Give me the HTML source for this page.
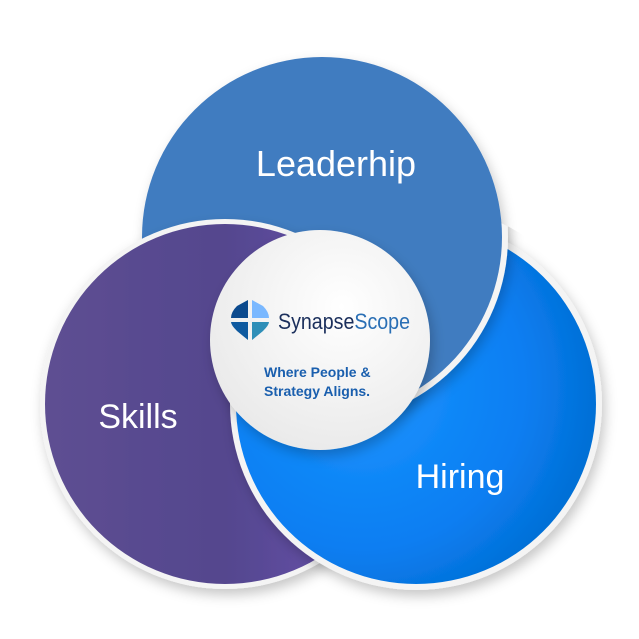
<!DOCTYPE html>
<html><head><meta charset="utf-8"><style>
html,body{margin:0;padding:0;background:#fff;}
svg{display:block;}
text{font-family:"Liberation Sans",sans-serif;}
</style></head><body>
<svg width="639" height="639" viewBox="0 0 639 639">
<defs>
<filter id="sh" x="-20%" y="-20%" width="140%" height="140%"><feDropShadow dx="3" dy="6" stdDeviation="6" flood-color="#000" flood-opacity="0.22"/></filter>
<linearGradient id="gs" x1="0" y1="0" x2="1" y2="0"><stop offset="0" stop-color="#5e4f92"/><stop offset="0.5" stop-color="#54468e"/><stop offset="0.85" stop-color="#6652aa"/></linearGradient>
<radialGradient id="gh" cx="0.35" cy="0.45" r="0.75"><stop offset="0" stop-color="#1a94ff"/><stop offset="0.6" stop-color="#0a7ef2"/><stop offset="1" stop-color="#0068c8"/></radialGradient>
<radialGradient id="gc" cx="0.6" cy="0.35" r="0.8"><stop offset="0" stop-color="#ffffff"/><stop offset="1" stop-color="#e6e6e6"/></radialGradient>
<clipPath id="rightHalf"><rect x="335" y="0" width="304" height="639"/></clipPath>
<clipPath id="hiringArea"><circle cx="416" cy="404" r="200"/></clipPath>
</defs>
<g filter="url(#sh)">
<circle cx="322" cy="237" r="180" fill="#417cc0"/>
</g>
<g filter="url(#sh)">
<circle cx="225" cy="404" r="185" fill="#f4f4f4"/>
<circle cx="225" cy="404" r="180" fill="url(#gs)"/>
</g>
<g filter="url(#sh)">
<circle cx="416" cy="404" r="186" fill="#f4f4f4"/>
<circle cx="416" cy="404" r="180" fill="url(#gh)"/>
</g>
<g clip-path="url(#rightHalf)">
<g clip-path="url(#hiringArea)">
<g filter="url(#sh)">
<circle cx="322" cy="237" r="186" fill="#f4f4f4"/>
<circle cx="322" cy="237" r="180" fill="#417cc0"/>
</g>
</g>
</g>
<text x="336" y="176" font-size="36" fill="#fff" text-anchor="middle">Leaderhip</text>
<text x="138" y="428" font-size="34" fill="#fff" text-anchor="middle">Skills</text>
<text x="460" y="488" font-size="34" fill="#fff" text-anchor="middle">Hiring</text>
<g filter="url(#sh)">
<circle cx="320" cy="340" r="110" fill="url(#gc)"/>
</g>
<g>
<path d="M248 300 L248 318 L231 318 Q231 312 237 306 Z" fill="#0b4a8e"/>
<path d="M252 300 L252 318 L269 318 Q269 312 263 306 Z" fill="#7ab8ff"/>
<path d="M248 322 L248 340 Q243 336 237 331 Q231 325 231 322 Z" fill="#0e5aa0"/>
<path d="M252 322 L252 340 Q257 336 263 331 Q269 325 269 322 Z" fill="#2f8fb8"/>
</g>
<text x="278" y="329" font-size="22" textLength="132" lengthAdjust="spacingAndGlyphs"><tspan fill="#1b2f5c">Synapse</tspan><tspan fill="#2a6fb5">Scope</tspan></text>
<text x="264" y="377" font-size="14" font-weight="bold" fill="#1a5fae">Where People &amp;</text>
<text x="264" y="396" font-size="14" font-weight="bold" fill="#1a5fae">Strategy Aligns.</text>
</svg>
</body></html>
